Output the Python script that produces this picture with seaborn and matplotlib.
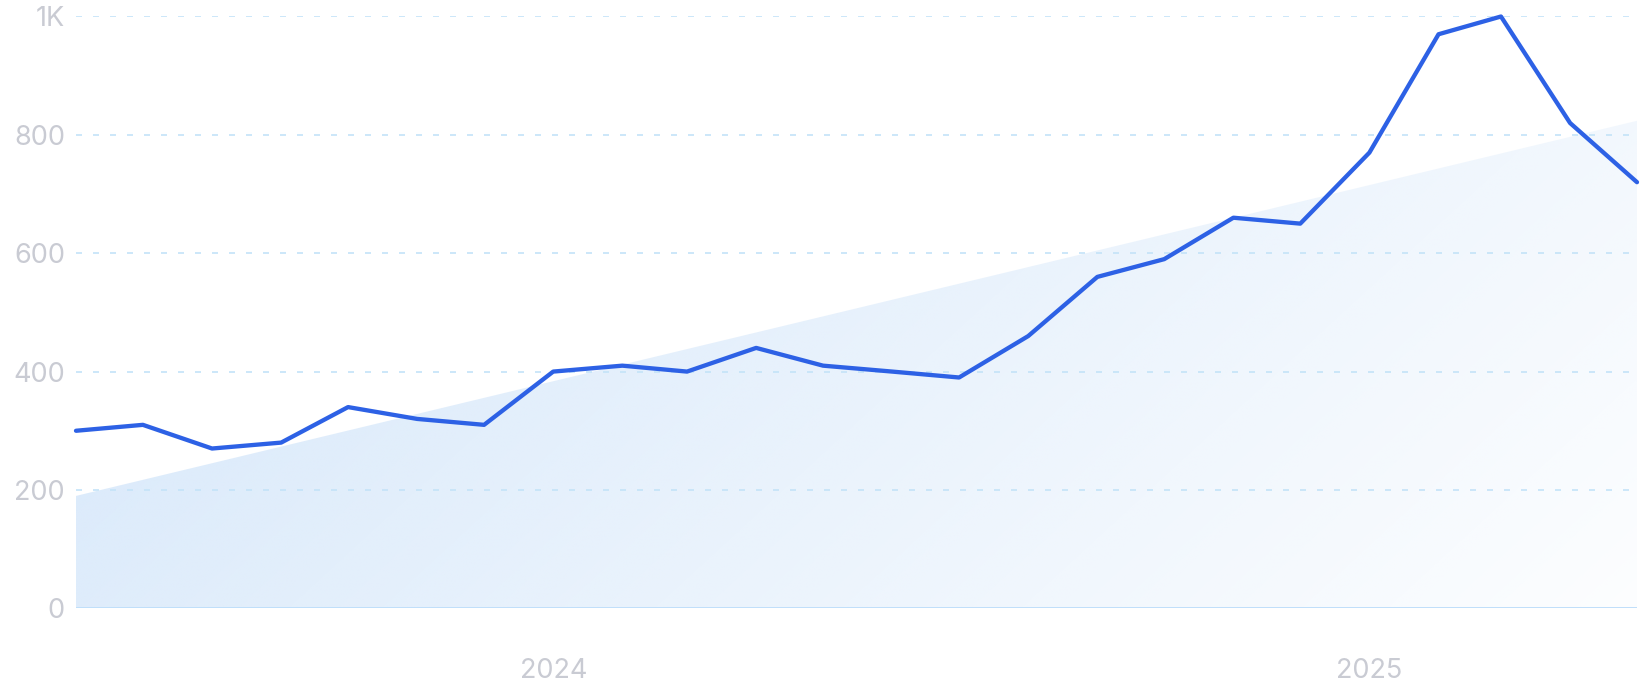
import numpy as np
import pandas as pd
import seaborn as sns
import matplotlib.pyplot as plt
import matplotlib.dates as mdates
from matplotlib.ticker import FixedLocator, FuncFormatter

# monthly values, Jun 2023 .. May 2025
months = pd.date_range("2023-06-01", "2025-05-01", freq="MS")
values = [300, 310, 270, 280, 340, 320, 310, 400, 410, 400, 440, 410,
          400, 390, 460, 560, 590, 660, 650, 770, 970, 1000, 820, 720]
year_ticks = pd.to_datetime(["2024-01-01", "2025-01-01"])
year_labels = ["2024", "2025"]
y_ticks = [0, 200, 400, 600, 800, 1000]

df = pd.DataFrame({"date": months, "value": values})

sns.set_style("white")
plt.rcParams["font.family"] = ["Inter", "DejaVu Sans"]

fig = plt.figure(figsize=(16.43, 7), dpi=100)
ax = fig.add_axes([76 / 1643, 1 - 608.3 / 700, 1561 / 1643, (608.3 - 16.5) / 700])

xnum = mdates.date2num(df["date"])
x0, x1 = xnum[0], xnum[-1]

# linear trend area with diagonal gradient
coef = np.polyfit(xnum, df["value"], 1)
trend = np.polyval(coef, xnum)
poly = ax.fill_between(df["date"], 0, trend, color="none", lw=0)

nx, ny = 400, 200
u = np.linspace(0, 1, nx)[None, :]
v = np.linspace(1, 0, ny)[:, None]
alpha = np.clip(0.92 - 0.85 * u + 0.35 * v, 0, 1)
grad = np.zeros((ny, nx, 4))
grad[..., 0] = 220 / 255
grad[..., 1] = 235 / 255
grad[..., 2] = 251 / 255
grad[..., 3] = alpha
img = ax.imshow(grad, extent=[x0, x1, 0, 1000], aspect="auto", zorder=1,
                interpolation="bilinear")
img.set_clip_path(poly.get_paths()[0], transform=ax.transData)

# grid
for yv in y_ticks[1:]:
    ax.axhline(yv, color="#c4e3f8", lw=1.2, dashes=(3.6, 6.6), zorder=2)
ax.axhline(0, color="#c0dffa", lw=1.4, zorder=2)

sns.lineplot(data=df, x="date", y="value", ax=ax, color="#2d61e5",
             lw=3.1, zorder=3, clip_on=False)

ax.set_xlim(x0, x1)
ax.set_ylim(0, 1000)
ax.xaxis.set_major_locator(FixedLocator(mdates.date2num(year_ticks)))
ax.set_xticklabels(year_labels)
ax.yaxis.set_major_locator(FixedLocator(y_ticks))
ax.yaxis.set_major_formatter(FuncFormatter(lambda val, pos: "1K" if val >= 1000 else f"{int(val)}"))
ax.tick_params(axis="x", length=0, pad=36, labelsize=19.5, colors="#c9cbd3")
ax.tick_params(axis="y", length=0, pad=8, labelsize=19.5, colors="#c9cbd3")
ax.set_xlabel("")
ax.set_ylabel("")
for s in ax.spines.values():
    s.set_visible(False)

fig.savefig("out.png", dpi=100)
